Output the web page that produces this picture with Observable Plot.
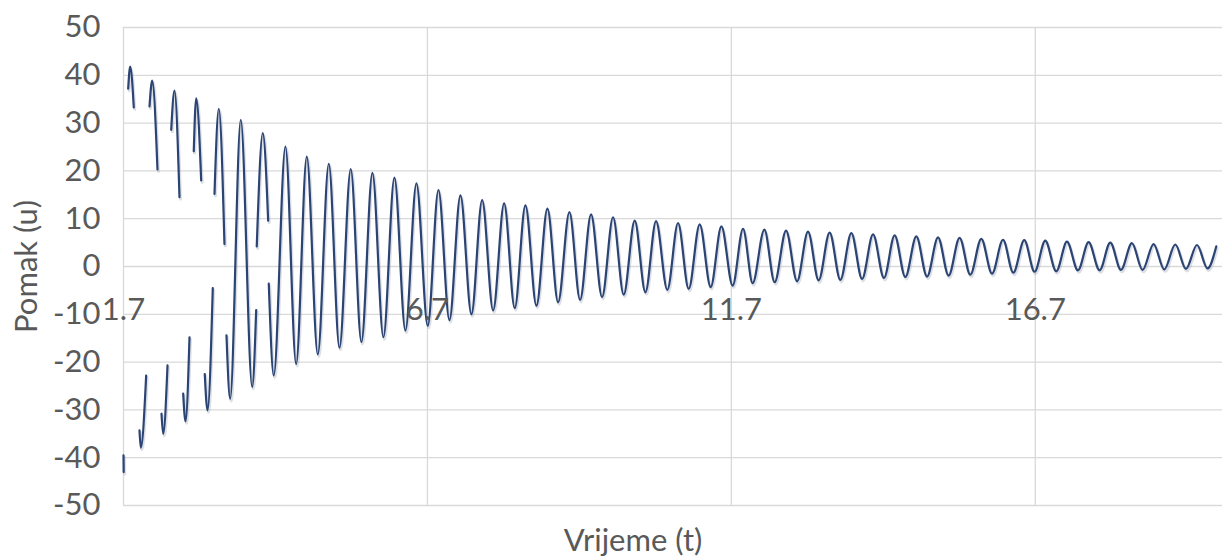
<!DOCTYPE html>
<html>
<head>
<meta charset="utf-8">
<script src="https://cdn.jsdelivr.net/npm/d3@7"></script>
<script src="https://cdn.jsdelivr.net/npm/@observablehq/plot@0.6"></script>
<style>
  html, body { margin: 0; padding: 0; background: #ffffff; }
  #chart { width: 1226px; height: 559px; }
</style>
</head>
<body>
<div id="chart"></div>
<script>
// Tick values
const xTicks = [1.7, 6.7, 11.7, 16.7];
const yTicks = [-50, -40, -30, -20, -10, 0, 10, 20, 30, 40, 50];

// Time (t); null marks a gap in the plotted line
const time = [
  1.700, 1.703, null,
  1.777, 1.810, 1.869, null,
  1.963, 1.985, 2.073, null,
  2.128, 2.172, 2.259, null,
  2.325, 2.353, 2.424, null,
  2.485, 2.539, 2.621, null,
  2.682, 2.720, 2.786, null,
  2.856, 2.896, 2.978, null,
  3.037, 3.082, 3.169, null,
  3.197, 3.268, 3.361, null,
  3.394, 3.455, 3.629, 3.817, 3.883, null,
  3.892, 3.991, 4.080, null,
  4.090, 4.172, 4.364, 4.540, 4.715, 4.896, 5.077, 5.253, 5.438, 5.614,
  5.795, 5.976, 6.157, 6.338, 6.519, 6.705, 6.881, 7.062, 7.243, 7.424,
  7.600, 7.781, 7.962, 8.136, 8.312, 8.493, 8.674, 8.850, 9.036, 9.211,
  9.392, 9.573, 9.754, 9.929, 10.110, 10.286, 10.461, 10.647, 10.823, 10.998,
  11.179, 11.360, 11.536, 11.721, 11.892, 12.050, 12.243, 12.412, 12.600, 12.781,
  12.961, 13.136, 13.317, 13.493, 13.674, 13.850, 14.031, 14.211, 14.386, 14.562,
  14.743, 14.919, 15.100, 15.274, 15.455, 15.631, 15.812, 15.988, 16.169, 16.338,
  16.519, 16.688, 16.864, 17.045, 17.221, 17.402, 17.577, 17.758, 17.934, 18.109,
  18.290, 18.465, 18.646, 18.822, 19.003, 19.179, 19.360, 19.534, 19.677
];

// Displacement (u); null marks a gap
const pomak = [
  -39.5, -43.0, null,
  37.2, 41.8, 33.3, null,
  -34.3, -37.9, -22.8, null,
  33.5, 38.9, 20.3, null,
  -30.8, -35.0, -20.7, null,
  28.6, 36.8, 14.5, null,
  -26.6, -32.4, -14.8, null,
  24.1, 35.2, 18.0, null,
  -22.5, -30.1, -4.5, null,
  15.2, 33.0, 4.7, null,
  -14.4, -27.7, 30.7, -25.2, -9.1, null,
  4.2, 27.9, 9.6, null,
  -3.6, -22.8, 25.1, -20.4, 23.0, -18.4, 21.5, -17.0, 20.4, -15.8,
  19.6, -14.8, 18.6, -13.4, 17.4, -12.4, 16.0, -11.2, 14.9, -10.0,
  13.9, -9.2, 13.2, -8.7, 12.8, -8.2, 12.1, -7.5, 11.4, -7.0,
  10.9, -6.4, 10.3, -5.9, 9.6, -5.4, 9.5, -4.9, 9.1, -4.7,
  8.8, -4.3, 8.4, -4.0, 7.9, -3.5, 7.7, -3.3, 7.5, -3.1,
  7.3, -2.9, 7.1, -2.8, 7.0, -2.6, 6.7, -2.4, 6.5, -2.2,
  6.3, -2.1, 6.1, -1.9, 6.0, -1.7, 5.8, -1.5, 5.6, -1.3,
  5.5, -1.1, 5.4, -1.0, 5.2, -0.8, 5.1, -0.8, 5.0, -0.7,
  4.9, -0.7, 4.7, -0.6, 4.6, -0.5, 4.5, -0.4, 4.2
];

const xTitle = "Vrijeme (t)";
const yTitle = "Pomak (u)";

const rows = time.map((t, i) => ({t, u: pomak[i]}));

const textColor = "#595959";
const gridColor = "#d9d9d9";
const font = "Lato, 'Open Sans', sans-serif";

const chart = Plot.plot({
  width: 1226,
  height: 559,
  marginLeft: 123,
  marginRight: 4,
  marginTop: 27,
  marginBottom: 54,
  style: {fontFamily: font, fontSize: "31px", color: textColor, background: "#ffffff"},
  x: {domain: [1.7, 19.78], axis: null},
  y: {
    domain: [-50, 50],
    ticks: yTicks,
    tickSize: 0,
    tickPadding: 23,
    tickFormat: d => String(d),
    label: null
  },
  marks: [
    Plot.ruleY(yTicks, {stroke: gridColor, strokeWidth: 1.3}),
    Plot.ruleX(xTicks, {stroke: gridColor, strokeWidth: 1.3}),
    Plot.line(rows, {x: "t", y: "u", curve: "monotone-x", stroke: "#9aa3b5", strokeOpacity: 0.35, strokeWidth: 3, dx: 1, dy: 2}),
    Plot.line(rows, {x: "t", y: "u", curve: "monotone-x", stroke: "#2b4473", strokeWidth: 2.2}),
    Plot.text(xTicks, {x: d => d, y: 0, dy: 44, text: d => String(d), fill: textColor, fontSize: 31, fontFamily: font}),
    Plot.text([xTitle], {frameAnchor: "bottom", textAnchor: "middle", lineAnchor: "middle", dx: -40, dy: 36, fill: textColor, fontSize: 31, fontFamily: font}),
    Plot.text([yTitle], {frameAnchor: "left", textAnchor: "middle", lineAnchor: "middle", dx: -96, rotate: -90, fill: textColor, fontSize: 31, fontFamily: font})
  ]
});

document.getElementById("chart").appendChild(chart);
</script>
</body>
</html>
